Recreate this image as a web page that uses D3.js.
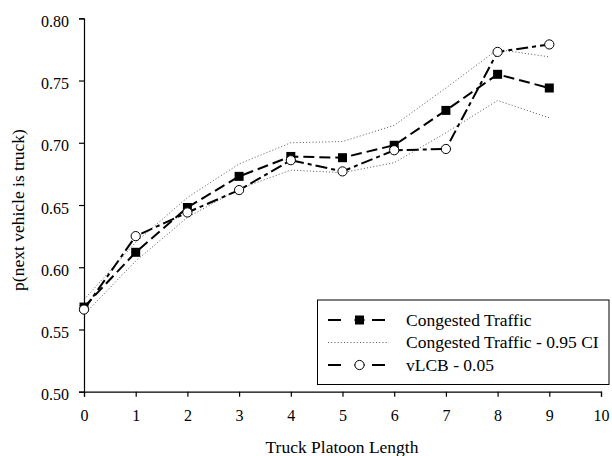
<!DOCTYPE html>
<html>
<head>
<meta charset="utf-8">
<script src="https://cdn.jsdelivr.net/npm/d3@7"></script>
<style>
  html, body { margin: 0; padding: 0; background: #fff; }
  svg { display: block; }
</style>
</head>
<body>
<svg id="chart" width="612" height="456"></svg>
<script>
// ---- data ----
const platoonLength = [0, 1, 2, 3, 4, 5, 6, 7, 8, 9];
const congested   = [0.568, 0.612, 0.648, 0.673, 0.689, 0.688, 0.698, 0.726, 0.755, 0.744];
const ciUpper     = [0.574, 0.620, 0.656, 0.683, 0.700, 0.701, 0.714, 0.744, 0.775, 0.769];
const ciLower     = [0.562, 0.605, 0.640, 0.663, 0.678, 0.676, 0.684, 0.708, 0.734, 0.720];
const vlcb        = [0.566, 0.625, 0.644, 0.662, 0.686, 0.677, 0.694, 0.695, 0.773, 0.779];
const xTicks = [0, 1, 2, 3, 4, 5, 6, 7, 8, 9, 10];
const yTicks = [0.50, 0.55, 0.60, 0.65, 0.70, 0.75, 0.80];
const legendLabels = ["Congested Traffic", "Congested Traffic - 0.95 CI", "vLCB - 0.05"];

// ---- layout ----
const FONT = "Liberation Serif, Times New Roman, serif";
const svg = d3.select("#chart");
const x = d3.scaleLinear().domain([0, 10]).range([84, 601]);
const y = d3.scaleLinear().domain([0.5, 0.8]).range([391.7, 18.3]);

// axes
const xAxis = d3.axisBottom(x).tickValues(xTicks).tickSize(5).tickFormat(d3.format("d"));
const yAxis = d3.axisLeft(y).tickValues(yTicks).tickSize(5).tickFormat(d3.format(".2f"));

const gx = svg.append("g").attr("transform", `translate(0,${y(0.5)})`).call(xAxis);
const gy = svg.append("g").attr("transform", `translate(${x(0)},0)`).call(yAxis);
[gx, gy].forEach(g => {
  g.attr("font-family", FONT).attr("font-size", 16);
  g.select(".domain").attr("stroke", "#000").attr("stroke-width", 1.2);
  g.selectAll(".tick line").attr("stroke", "#000").attr("stroke-width", 1.2);
  g.selectAll(".tick text").attr("fill", "#000");
});
gx.selectAll(".tick text").attr("y", 24).attr("dy", "0.32em");
gy.selectAll(".tick text").attr("x", -15).attr("dy", "0.5em");

// axis titles
svg.append("text").attr("x", 342).attr("y", 453).attr("text-anchor", "middle")
  .attr("font-family", FONT).attr("font-size", 17.5).text("Truck Platoon Length");
svg.append("text").attr("transform", `translate(24,210) rotate(-90)`).attr("text-anchor", "middle")
  .attr("font-family", FONT).attr("font-size", 17.5).text("p(next vehicle is truck)");

// lines
const line = vals => d3.line().x((d, i) => x(platoonLength[i])).y(d => y(d))(vals);

const ciStyle = p => p.attr("fill", "none").attr("stroke", "#555").attr("stroke-width", 1).attr("stroke-dasharray", "1,2.2");
ciStyle(svg.append("path").attr("d", line(ciUpper)));
ciStyle(svg.append("path").attr("d", line(ciLower)));

svg.append("path").attr("d", line(congested)).attr("fill", "none").attr("stroke", "#000")
  .attr("stroke-width", 2).attr("stroke-dasharray", "11,5");
svg.append("path").attr("d", line(vlcb)).attr("fill", "none").attr("stroke", "#000")
  .attr("stroke-width", 2).attr("stroke-dasharray", "12,4,4,4");

// markers
svg.append("g").selectAll("rect").data(congested).join("rect")
  .attr("x", (d, i) => x(platoonLength[i]) - 4.5).attr("y", d => y(d) - 4.5)
  .attr("width", 9).attr("height", 9).attr("fill", "#000");
svg.append("g").selectAll("circle").data(vlcb).join("circle")
  .attr("cx", (d, i) => x(platoonLength[i])).attr("cy", d => y(d)).attr("r", 4.6)
  .attr("fill", "#fff").attr("stroke", "#000").attr("stroke-width", 1);

// legend
const lg = svg.append("g");
lg.append("rect").attr("x", 317.5).attr("y", 300).attr("width", 291.5).attr("height", 84.5)
  .attr("fill", "#fff").attr("stroke", "#000").attr("stroke-width", 1);
const rowY = [320, 342.5, 365];
const lx0 = 328, lx1 = 385, mx = 359.5;
// row 1
lg.append("line").attr("x1", lx0).attr("x2", lx0 + 13).attr("y1", rowY[0]).attr("y2", rowY[0]).attr("stroke", "#000").attr("stroke-width", 2);
lg.append("line").attr("x1", mx - 5).attr("x2", mx + 5).attr("y1", rowY[0]).attr("y2", rowY[0]).attr("stroke", "#000").attr("stroke-width", 2);
lg.append("line").attr("x1", lx1 - 13).attr("x2", lx1).attr("y1", rowY[0]).attr("y2", rowY[0]).attr("stroke", "#000").attr("stroke-width", 2);
lg.append("rect").attr("x", mx - 4.5).attr("y", rowY[0] - 4.5).attr("width", 9).attr("height", 9).attr("fill", "#000");
// row 2
lg.append("line").attr("x1", lx0).attr("x2", lx1 + 4).attr("y1", rowY[1]).attr("y2", rowY[1])
  .attr("stroke", "#555").attr("stroke-width", 1).attr("stroke-dasharray", "1,2.2");
// row 3
lg.append("line").attr("x1", lx0).attr("x2", lx0 + 13).attr("y1", rowY[2]).attr("y2", rowY[2]).attr("stroke", "#000").attr("stroke-width", 2);
lg.append("line").attr("x1", mx - 5).attr("x2", mx + 5).attr("y1", rowY[2]).attr("y2", rowY[2]).attr("stroke", "#000").attr("stroke-width", 2);
lg.append("line").attr("x1", lx1 - 13).attr("x2", lx1).attr("y1", rowY[2]).attr("y2", rowY[2]).attr("stroke", "#000").attr("stroke-width", 2);
lg.append("circle").attr("cx", mx).attr("cy", rowY[2]).attr("r", 4.6).attr("fill", "#fff").attr("stroke", "#000").attr("stroke-width", 1);
lg.selectAll("text.lab").data(legendLabels).join("text").attr("class", "lab")
  .attr("x", 406).attr("y", (d, i) => rowY[i] + 5.5).attr("font-family", FONT).attr("font-size", 17.5).text(d => d);
</script>
</body>
</html>
